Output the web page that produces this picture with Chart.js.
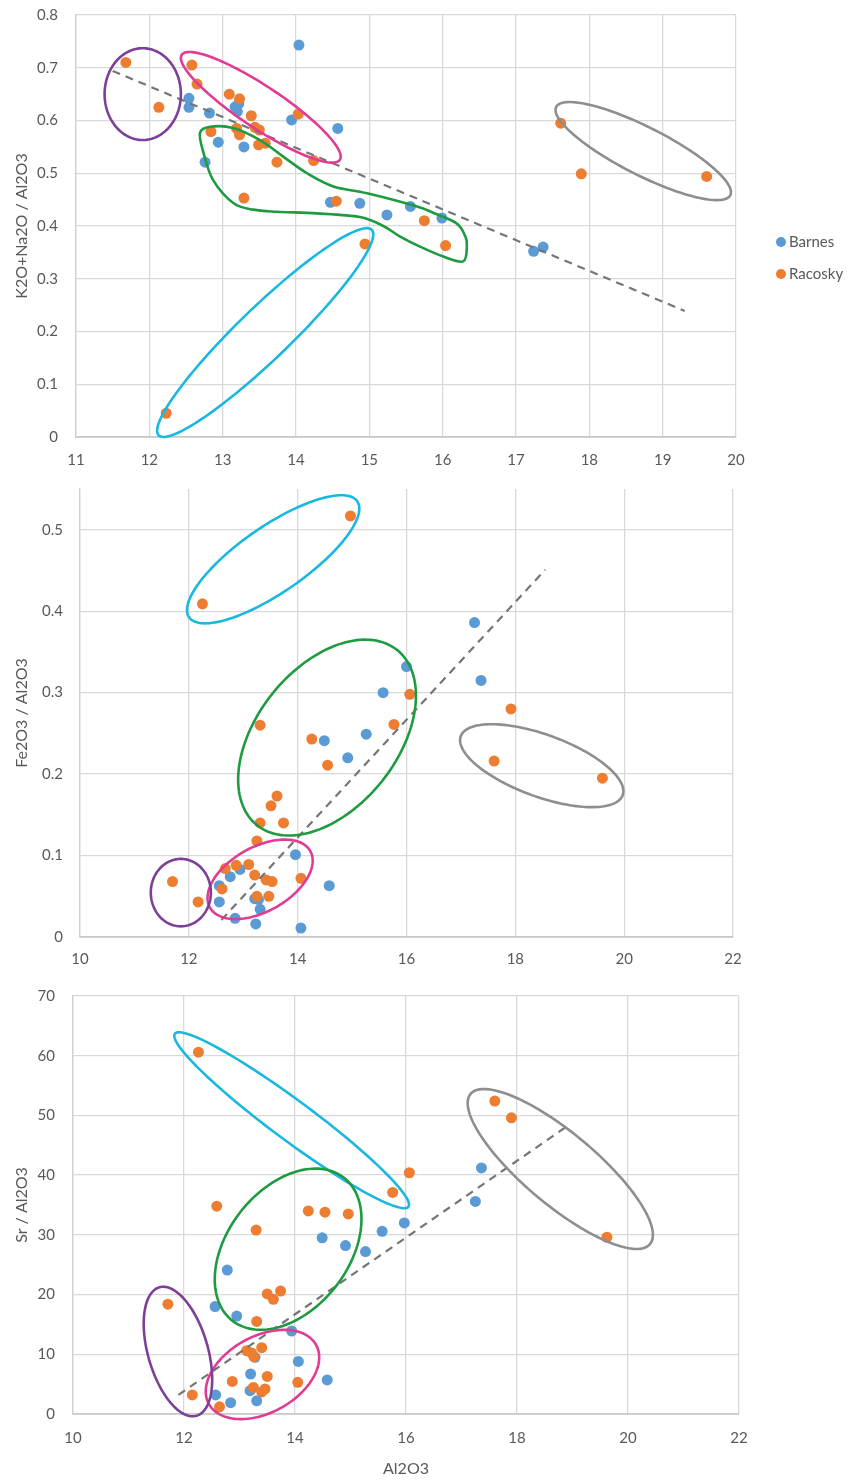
<!DOCTYPE html>
<html>
<head>
<meta charset="utf-8">
<script src="https://cdn.jsdelivr.net/npm/chart.js@4.4.0/dist/chart.umd.min.js"></script>
<style>
  body { margin: 0; background: #fff; }
  .box { position: absolute; left: 0; width: 849px; }
  #b1 { top: 0; height: 470px; }
  #b2 { top: 475px; height: 490px; }
  #b3 { top: 965px; height: 515px; }
</style>
</head>
<body>
<div class="box" id="b1"><canvas id="c1"></canvas></div>
<div class="box" id="b2"><canvas id="c2"></canvas></div>
<div class="box" id="b3"><canvas id="c3"></canvas></div>
<script>
// --- data ---

// chart 1: K2O+Na2O / Al2O3 vs Al2O3
const alkBarnesAl = [14.04, 12.54, 12.54, 12.82, 13.17, 13.20, 13.22, 13.94, 14.57, 12.94, 13.29, 12.76, 14.47, 14.87, 15.24, 15.56, 15.99, 17.24, 17.37];
const alkBarnesVal = [0.743, 0.642, 0.625, 0.614, 0.626, 0.617, 0.632, 0.601, 0.585, 0.559, 0.550, 0.521, 0.445, 0.443, 0.421, 0.437, 0.415, 0.352, 0.360];
const alkRacoskyAl = [11.68, 12.13, 12.58, 12.65, 13.09, 13.23, 13.39, 14.03, 12.84, 13.19, 13.23, 13.44, 13.50, 13.49, 13.58, 13.74, 14.24, 13.29, 14.55, 14.94, 15.75, 16.04, 17.61, 17.89, 19.60, 12.23];
const alkRacoskyVal = [0.710, 0.625, 0.705, 0.669, 0.650, 0.641, 0.609, 0.612, 0.579, 0.585, 0.573, 0.587, 0.582, 0.554, 0.557, 0.521, 0.524, 0.453, 0.447, 0.366, 0.410, 0.363, 0.595, 0.499, 0.494, 0.045];
const alkTrendAl = [11.5, 19.3];
const alkTrendVal = [0.694, 0.239];

// chart 2: Fe2O3 / Al2O3 vs Al2O3
const feBarnesAl = [14.49, 14.92, 15.26, 13.96, 12.94, 12.76, 12.56, 12.56, 13.21, 13.28, 13.31, 12.85, 13.23, 14.06, 14.58, 16.00, 15.57, 17.25, 17.37];
const feBarnesVal = [0.241, 0.220, 0.249, 0.101, 0.083, 0.074, 0.063, 0.043, 0.047, 0.046, 0.034, 0.023, 0.016, 0.011, 0.063, 0.332, 0.300, 0.386, 0.315];
const feRacoskyAl = [12.25, 14.97, 13.31, 16.06, 15.77, 17.92, 14.26, 14.55, 13.62, 13.51, 13.31, 13.74, 13.25, 11.70, 12.17, 12.67, 12.87, 13.10, 13.21, 13.42, 13.53, 12.61, 13.25, 13.47, 14.06, 17.61, 19.60];
const feRacoskyVal = [0.409, 0.517, 0.260, 0.298, 0.261, 0.280, 0.243, 0.211, 0.173, 0.161, 0.140, 0.140, 0.118, 0.068, 0.043, 0.084, 0.088, 0.089, 0.076, 0.070, 0.068, 0.059, 0.050, 0.050, 0.072, 0.216, 0.195];
const feTrendAl = [12.6, 18.55];
const feTrendVal = [0.021, 0.451];

// chart 3: Sr / Al2O3 vs Al2O3
const srBarnesAl = [15.97, 14.49, 14.91, 15.27, 15.57, 12.78, 12.56, 12.95, 13.94, 13.28, 14.06, 13.20, 14.58, 13.19, 12.57, 12.84, 13.31, 17.36, 17.25];
const srBarnesVal = [32.0, 29.5, 28.2, 27.2, 30.6, 24.1, 18.0, 16.4, 13.9, 9.5, 8.8, 6.7, 5.7, 3.9, 3.2, 1.9, 2.2, 41.2, 35.6];
const srRacoskyAl = [12.26, 12.59, 15.76, 16.06, 14.24, 14.54, 14.96, 13.30, 17.60, 17.90, 19.62, 11.71, 13.50, 13.61, 13.74, 13.31, 13.13, 13.22, 13.26, 13.40, 12.87, 13.50, 13.25, 13.46, 13.40, 14.05, 12.15, 12.64];
const srRacoskyVal = [60.6, 34.8, 37.1, 40.4, 34.0, 33.8, 33.5, 30.8, 52.4, 49.6, 29.6, 18.4, 20.1, 19.2, 20.6, 15.5, 10.6, 10.2, 9.6, 11.1, 5.45, 6.3, 4.45, 4.2, 3.7, 5.3, 3.2, 1.2];
const srTrendAl = [11.9, 18.95];
const srTrendVal = [3.2, 48.5];

// hand-drawn group outlines (data units: centre, two conjugate half-axes)
const PURPLE = '#7d3f98', PINK = '#e03c94', GREEN = '#1e9b41', CYAN = '#1ab7e0', GREY = '#8e8e8e';

const alkEllipses = [
  { c: [11.91, 0.650], u: [0.52, 0], v: [0, 0.087], color: PURPLE },
  { c: [13.52, 0.625], u: [1.078, -0.0995], v: [-0.158, -0.0332], color: PINK },
  { c: [18.735, 0.542], u: [1.187, -0.0837], v: [-0.148, -0.0405], color: GREY },
  { c: [13.58, 0.198], u: [1.453, 0.1947], v: [0.247, -0.0354], color: CYAN }
];
const alkBlob = {
  color: GREEN,
  pts: [[12.69, 0.576], [12.83, 0.588], [13.14, 0.586], [13.51, 0.563], [13.82, 0.532], [14.15, 0.500], [14.51, 0.475],
        [14.97, 0.462], [15.65, 0.437], [15.87, 0.425], [16.19, 0.405], [16.31, 0.380], [16.33, 0.361], [16.28, 0.333],
        [16.01, 0.342], [15.69, 0.361], [15.42, 0.380], [15.19, 0.400], [14.87, 0.417], [14.28, 0.424], [13.74, 0.427],
        [13.42, 0.431], [13.15, 0.443], [12.87, 0.487], [12.74, 0.538]]
};
const feEllipses = [
  { c: [13.55, 0.4637], u: [1.545, 0.0712], v: [0.345, -0.0334], color: CYAN },
  { c: [14.54, 0.2448], u: [1.288, 0.1075], v: [1.005, -0.0539], color: GREEN },
  { c: [13.31, 0.0708], u: [0.922, 0.0347], v: [0.289, -0.0343], color: PINK },
  { c: [11.853, 0.0545], u: [0.552, 0], v: [0, 0.0414], color: PURPLE },
  { c: [18.485, 0.2103], u: [1.488, -0.0362], v: [-0.195, -0.0358], color: GREY }
];
const srEllipses = [
  { c: [13.94, 49.19], u: [2.104, -14.49], v: [-0.2145, -2.684], color: CYAN },
  { c: [18.78, 41.03], u: [1.616, -12.57], v: [-0.417, -4.61], color: GREY },
  { c: [13.876, 27.6], u: [1.0006, 12.0], v: [0.8635, -6.18], color: GREEN },
  { c: [13.414, 6.62], u: [0.966, 4.95], v: [0.3335, -5.60], color: PINK },
  { c: [11.891, 10.46], u: [0.3335, -10.76], v: [-0.519, -1.384], color: PURPLE }
];

// --- drawing ---
const TEXT = '#595959';
const GRID = '#d9d9d9';
const BLUE = '#5b9bd5';
const ORANGE = '#ed7d31';
Chart.defaults.font.family = 'Lato, "Open Sans", sans-serif';
Chart.defaults.color = TEXT;

function pts(xs, ys) {
    return xs.map((v, i) => ({ x: v, y: ys[i] }));
}

const shapesPlugin = {
    id: 'shapes',
    afterDatasetsDraw(chart, args, opts) {
        const { ctx } = chart;
        const sx = chart.scales.x, sy = chart.scales.y;
        const px = (a, b) => [sx.getPixelForValue(a), sy.getPixelForValue(b)];
        ctx.save();
        ctx.lineWidth = 2.6;
        (opts.ellipses || []).forEach(e => {
            ctx.beginPath();
            for (let i = 0; i <= 144; i++) {
                const t = i / 144 * Math.PI * 2;
                const p = px(e.c[0] + e.u[0] * Math.cos(t) + e.v[0] * Math.sin(t),
                             e.c[1] + e.u[1] * Math.cos(t) + e.v[1] * Math.sin(t));
                if (i === 0) ctx.moveTo(p[0], p[1]); else ctx.lineTo(p[0], p[1]);
            }
            ctx.closePath();
            ctx.strokeStyle = e.color;
            ctx.stroke();
        });
        (opts.blobs || []).forEach(b => {
            const P = b.pts.map(q => px(q[0], q[1]));
            const n = P.length;
            ctx.beginPath();
            ctx.moveTo(P[0][0], P[0][1]);
            for (let i = 0; i < n; i++) {
                const p0 = P[(i - 1 + n) % n], p1 = P[i], p2 = P[(i + 1) % n], p3 = P[(i + 2) % n];
                ctx.bezierCurveTo(
                    p1[0] + (p2[0] - p0[0]) / 6, p1[1] + (p2[1] - p0[1]) / 6,
                    p2[0] - (p3[0] - p1[0]) / 6, p2[1] - (p3[1] - p1[1]) / 6,
                    p2[0], p2[1]);
            }
            ctx.closePath();
            ctx.strokeStyle = b.color;
            ctx.stroke();
        });
        ctx.restore();
    }
};

const sideLegend = {
    id: 'sideLegend',
    afterDraw(chart, args, opts) {
        if (!opts.show) return;
        const { ctx, chartArea } = chart;
        const items = chart.data.datasets.filter(d => d.label !== 'trend');
        ctx.save();
        ctx.font = '15px ' + Chart.defaults.font.family;
        ctx.textBaseline = 'middle';
        items.forEach((d, i) => {
            const x = chartArea.right + 45, y = opts.top + i * opts.gap;
            ctx.fillStyle = d.backgroundColor;
            ctx.beginPath();
            ctx.arc(x, y, 5, 0, Math.PI * 2);
            ctx.fill();
            ctx.fillStyle = TEXT;
            ctx.fillText(d.label, x + 8, y);
        });
        ctx.restore();
    }
};

function makeChart(id, cfg) {
    return new Chart(document.getElementById(id), {
        type: 'scatter',
        data: {
            datasets: [
                {
                    label: 'trend',
                    data: pts(cfg.trendX, cfg.trendY),
                    showLine: true,
                    borderColor: '#757575',
                    borderWidth: 2.2,
                    borderDash: [8, 6],
                    pointRadius: 0,
                    order: 0
                },
                {
                    label: 'Barnes',
                    data: pts(cfg.bx, cfg.by),
                    backgroundColor: BLUE,
                    borderWidth: 0,
                    pointRadius: 5.5,
                    order: 2
                },
                {
                    label: 'Racosky',
                    data: pts(cfg.rx, cfg.ry),
                    backgroundColor: ORANGE,
                    borderWidth: 0,
                    pointRadius: 5.5,
                    order: 1
                }
            ]
        },
        options: {
            responsive: true,
            maintainAspectRatio: false,
            animation: false,
            events: [],
            layout: { padding: { left: 0, top: cfg.padTop, right: cfg.padRight, bottom: 0 } },
            scales: {
                x: {
                    type: 'linear',
                    min: cfg.xMin,
                    max: cfg.xMax,
                    ticks: { stepSize: cfg.xStep, padding: cfg.xTickPad, color: TEXT, font: { size: 15 } },
                    grid: { color: GRID, lineWidth: 1.3, drawTicks: false },
                    border: { color: '#c8c8c8', width: 1.8 },
                    title: {
                        display: !!cfg.xTitle,
                        text: cfg.xTitle || '',
                        color: TEXT,
                        font: { size: 16 },
                        padding: { top: 0, bottom: 2 }
                    },
                    afterFit: s => { s.height = cfg.xHeight; }
                },
                y: {
                    type: 'linear',
                    min: 0,
                    max: cfg.yMax,
                    // gap to the labels comes from an invisible tick mark, so the top padding stays small
                    ticks: { stepSize: cfg.yStep, padding: 3, color: TEXT, font: { size: 15 } },
                    afterBuildTicks: s => { s.ticks = s.ticks.filter(t => t.value <= cfg.yLast + 1e-9); },
                    grid: { color: GRID, lineWidth: 1.3, drawTicks: true, tickLength: cfg.yTickPad - 3, tickColor: 'rgba(0,0,0,0)' },
                    border: { color: '#d0d0d0', width: 1.3 },
                    title: {
                        display: true,
                        text: cfg.yTitle,
                        color: TEXT,
                        font: { size: 16 },
                        padding: { top: 12, bottom: 0 }
                    },
                    afterFit: s => { s.width = cfg.yWidth; }
                }
            },
            plugins: {
                legend: { display: false },
                tooltip: { enabled: false },
                shapes: { ellipses: cfg.ellipses, blobs: cfg.blobs },
                sideLegend: { show: !!cfg.legend, top: 242, gap: 32 }
            }
        },
        plugins: [shapesPlugin, sideLegend]
    });
}

makeChart('c1', {
    bx: alkBarnesAl, by: alkBarnesVal, rx: alkRacoskyAl, ry: alkRacoskyVal,
    trendX: alkTrendAl, trendY: alkTrendVal,
    xMin: 11, xMax: 20, xStep: 1, yMax: 0.8, yStep: 0.1, yLast: 0.8,
    yTitle: 'K2O+Na2O / Al2O3',
    padTop: 15, padRight: 113, xHeight: 33, yWidth: 76, xTickPad: 14, yTickPad: 18,
    ellipses: alkEllipses, blobs: [alkBlob], legend: true
});

makeChart('c2', {
    bx: feBarnesAl, by: feBarnesVal, rx: feRacoskyAl, ry: feRacoskyVal,
    trendX: feTrendAl, trendY: feTrendVal,
    xMin: 10, xMax: 22, xStep: 2, yMax: 0.55, yStep: 0.1, yLast: 0.5,
    yTitle: 'Fe2O3 / Al2O3',
    padTop: 14, padRight: 116, xHeight: 28, yWidth: 80, xTickPad: 13, yTickPad: 17,
    ellipses: feEllipses, blobs: []
});

makeChart('c3', {
    bx: srBarnesAl, by: srBarnesVal, rx: srRacoskyAl, ry: srRacoskyVal,
    trendX: srTrendAl, trendY: srTrendVal,
    xMin: 10, xMax: 22, xStep: 2, yMax: 70, yStep: 10, yLast: 70,
    yTitle: 'Sr / Al2O3', xTitle: 'Al2O3',
    padTop: 31, padRight: 110, xHeight: 66, yWidth: 73, xTickPad: 15, yTickPad: 18,
    ellipses: srEllipses, blobs: []
});
</script>
</body>
</html>
